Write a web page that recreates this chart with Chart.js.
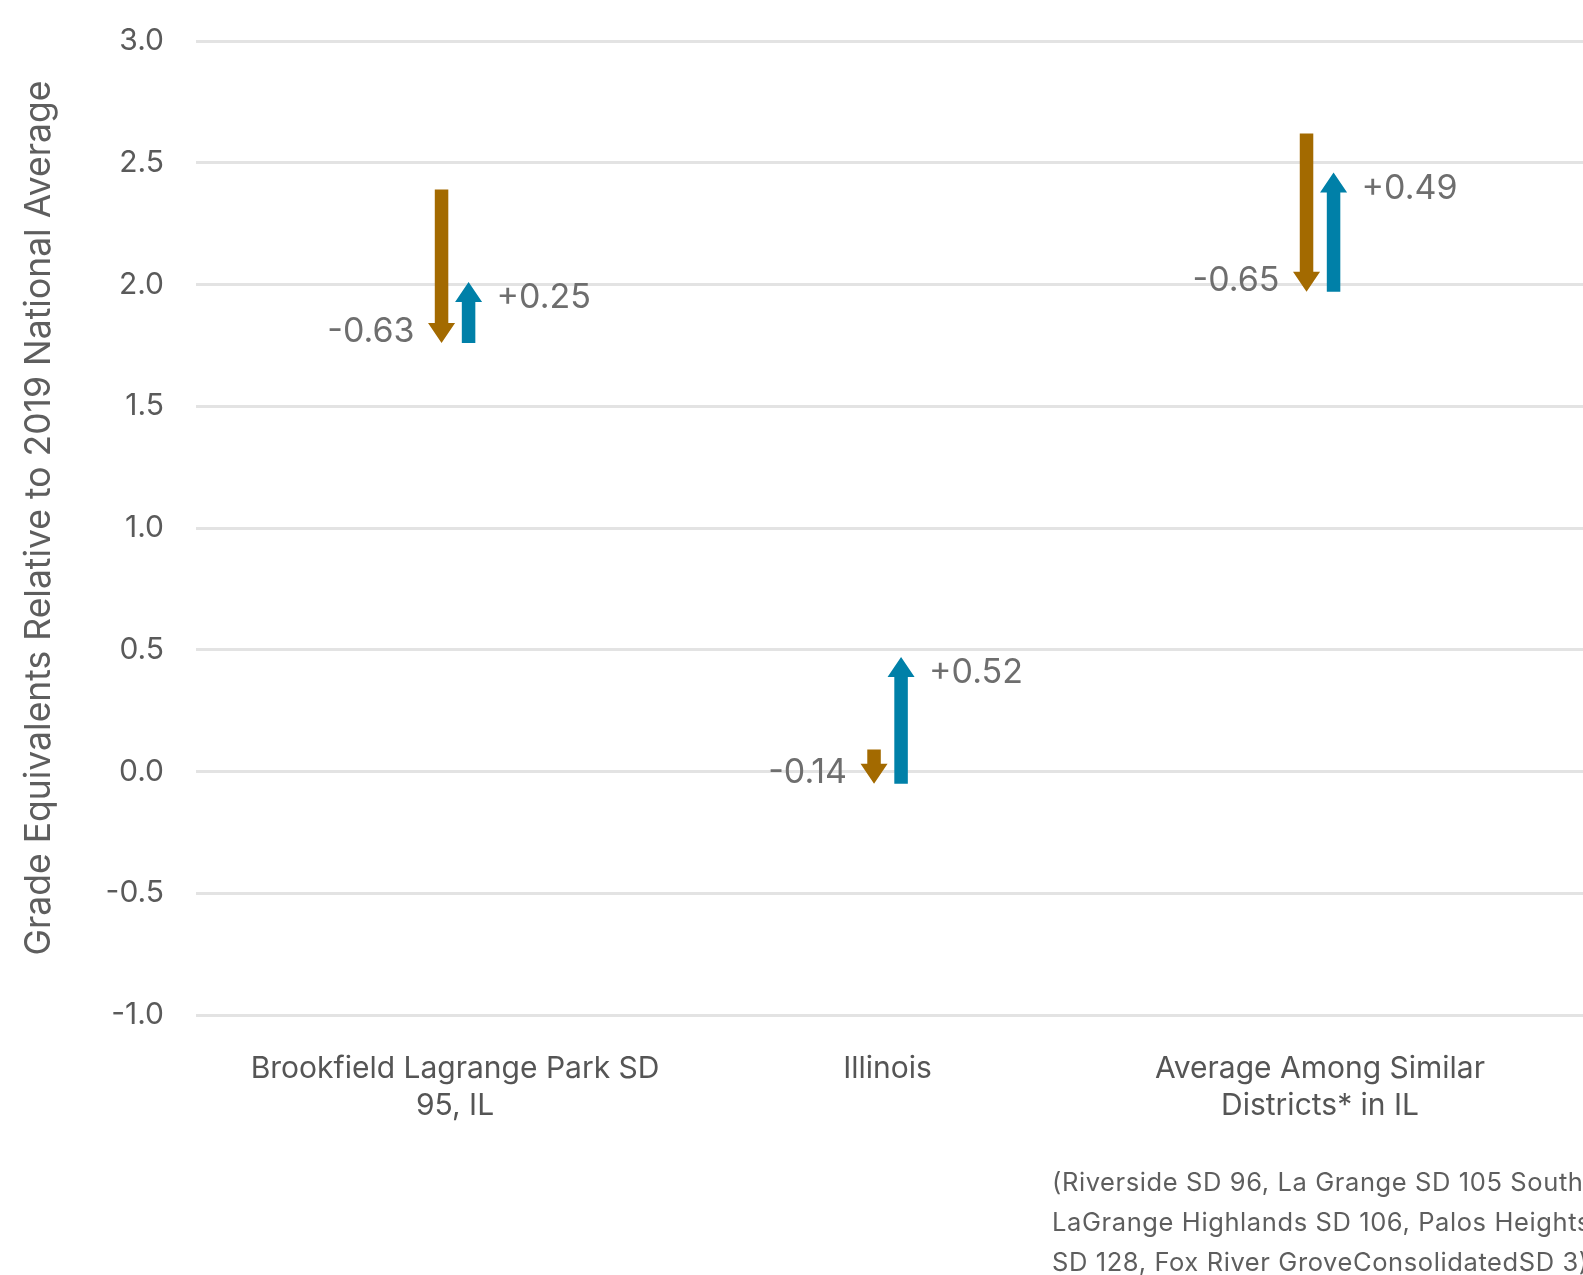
<!DOCTYPE html>
<html>
<head>
<meta charset="utf-8">
<script src="https://cdn.jsdelivr.net/npm/chart.js@4"></script>
<style>
  html, body { margin: 0; padding: 0; background: #fff; overflow: hidden; }
  #wrap { position: relative; width: 1583px; height: 1275px; }
  #note {
    position: absolute; left: 1052px; top: 1162px; width: 700px;
    font-family: Inter, "Open Sans", sans-serif; font-size: 25.5px; line-height: 40px;
    color: #5e5e5e; white-space: nowrap; letter-spacing: 0.6px;
  }
</style>
</head>
<body>
<div id="wrap">
  <canvas id="myChart" width="1583" height="1275"></canvas>
  <div id="note">(Riverside SD 96, La Grange SD 105 South<br>LaGrange Highlands SD 106, Palos Heights<br>SD 128, Fox River GroveConsolidatedSD 3)</div>
</div>
<script>
// Kategorie a hodnoty
const categories = [
    ["Brookfield Lagrange Park SD", "95, IL"],
    "Illinois",
    ["Average Among Similar", "Districts* in IL"]
];
const declineStart = [2.39, 0.09, 2.62];
const declineEnd = [1.76, -0.05, 1.97];
const declineLabels = ["-0.63", "-0.14", "-0.65"];
const recoveryStart = [1.76, -0.05, 1.97];
const recoveryEnd = [2.01, 0.47, 2.46];
const recoveryLabels = ["+0.25", "+0.52", "+0.49"];
const yTicks = [-1.0, -0.5, 0.0, 0.5, 1.0, 1.5, 2.0, 2.5, 3.0];

const orange = '#a36a00';
const blue = '#0080a8';
const font = 'Inter, "Open Sans", sans-serif';

// Šipky: tělo + hrot, kreslené podle prvků sloupců
const arrowPlugin = {
    id: 'arrows',
    afterDatasetsDraw(chart) {
        const ctx = chart.ctx;
        chart.data.datasets.forEach((ds, di) => {
            const meta = chart.getDatasetMeta(di);
            const down = ds.direction === 'down';
            meta.data.forEach((bar, i) => {
                const w = bar.width;
                const top = Math.min(bar.y, bar.base);
                const bottom = Math.max(bar.y, bar.base);
                const headH = 20;
                ctx.save();
                ctx.fillStyle = ds.arrowColor;
                ctx.beginPath();
                if (down) {
                    ctx.rect(bar.x - w / 2, top, w, bottom - top - headH);
                    ctx.moveTo(bar.x - w, bottom - headH);
                    ctx.lineTo(bar.x + w, bottom - headH);
                    ctx.lineTo(bar.x, bottom);
                } else {
                    ctx.rect(bar.x - w / 2, top + headH, w, bottom - top - headH);
                    ctx.moveTo(bar.x - w, top + headH);
                    ctx.lineTo(bar.x + w, top + headH);
                    ctx.lineTo(bar.x, top);
                }
                ctx.closePath();
                ctx.fill();
                // popisek
                ctx.font = '34px ' + font;
                ctx.fillStyle = '#6e6e6e';
                ctx.textBaseline = 'middle';
                if (down) {
                    ctx.textAlign = 'right';
                    ctx.fillText(ds.valueLabels[i], bar.x - 27, bottom - 11);
                } else {
                    ctx.textAlign = 'left';
                    ctx.fillText(ds.valueLabels[i], bar.x + 28, top + 16);
                }
                ctx.restore();
            });
        });
    }
};

const ctx = document.getElementById('myChart').getContext('2d');
new Chart(ctx, {
    type: 'bar',
    data: {
        datasets: [{
            label: 'Decline',
            direction: 'down',
            arrowColor: orange,
            valueLabels: declineLabels,
            data: categories.map((c, i) => ({ x: i, y: [declineStart[i], declineEnd[i]] })),
            backgroundColor: 'rgba(0,0,0,0)'
        }, {
            label: 'Recovery',
            direction: 'up',
            arrowColor: blue,
            valueLabels: recoveryLabels,
            data: categories.map((c, i) => ({ x: i, y: [recoveryStart[i], recoveryEnd[i]] })),
            backgroundColor: 'rgba(0,0,0,0)'
        }]
    },
    options: {
        responsive: false,
        animation: false,
        devicePixelRatio: 1,
        categoryPercentage: 0.125,
        barPercentage: 0.5,
        layout: { padding: { top: 41, right: 0, left: 18, bottom: 0 } },
        plugins: {
            legend: { display: false },
            tooltip: { enabled: false }
        },
        scales: {
            x: {
                type: 'linear',
                offset: false,
                min: -0.599,
                max: 2.608,
                afterBuildTicks: (axis) => { axis.ticks = categories.map((c, i) => ({ value: i })); },
                afterFit: (axis) => { axis.height = 260; axis.paddingLeft = 0; axis.paddingRight = 0; },
                ticks: {
                    callback: (v) => categories[v],
                    font: { family: font, size: 30, lineHeight: 1.25 },
                    color: '#555555',
                    padding: 27,
                    maxRotation: 0,
                    autoSkip: false
                },
                grid: { display: false, offset: false },
                border: { display: false }
            },
            y: {
                min: -1,
                max: 3,
                afterBuildTicks: (axis) => { axis.ticks = yTicks.map(v => ({ value: v })); },
                afterFit: (axis) => { axis.width = 178; axis.paddingTop = 0; axis.paddingBottom = 0; },
                ticks: {
                    callback: (v) => v.toFixed(1),
                    font: { family: font, size: 30 },
                    color: '#5a5a5a',
                    padding: 32
                },
                grid: { color: '#e3e3e3', lineWidth: 3, drawTicks: false },
                border: { display: false },
                title: {
                    display: true,
                    text: '  Grade Equivalents Relative to 2019 National Average',
                    font: { family: font, size: 35.5 },
                    color: '#5e5e5e',
                    padding: { top: 0, bottom: 0 }
                }
            }
        }
    },
    plugins: [arrowPlugin]
});
</script>
</body>
</html>
